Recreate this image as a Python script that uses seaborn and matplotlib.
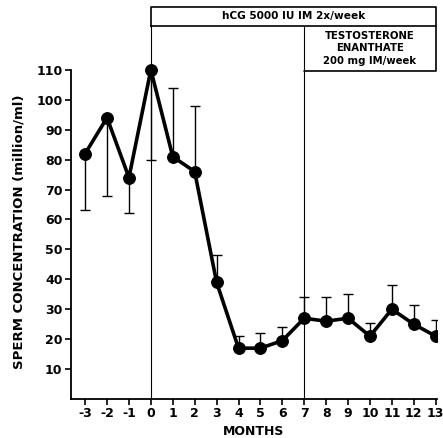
import numpy as np
import pandas as pd
import seaborn as sns
import matplotlib.pyplot as plt

# values
months = [-3, -2, -1, 0, 1, 2, 3, 4, 5, 6, 7, 8, 9, 10, 11, 12, 13]
sperm_mean = [82, 94, 74, 110, 81, 76, 39, 17, 17, 19.5, 27, 26, 27, 21, 30, 25, 21]
err_low = [19, 26, 12, 30, 0, 0, 0, 0, 0, 0, 0, 0, 0, 0, 0, 0, 0]
err_high = [0, 0, 0, 0, 23, 22, 9, 4, 5, 4.5, 7, 8, 8, 4.5, 8, 6.5, 5.5]
y_ticks = [10, 20, 30, 40, 50, 60, 70, 80, 90, 100, 110]

hcg_start, te_start, study_end = 0, 7, 13
hcg_label = 'hCG 5000 IU IM 2x/week'
te_label = 'TESTOSTERONE\nENANTHATE\n200 mg IM/week'

df = pd.DataFrame({'Month': months, 'Sperm': sperm_mean})

sns.set_style('ticks')
plt.rcParams['font.family'] = ['DejaVu Sans']
plt.rcParams['font.weight'] = 'bold'
plt.rcParams['text.color'] = 'black'
plt.rcParams['xtick.color'] = 'black'
plt.rcParams['ytick.color'] = 'black'
plt.rcParams['axes.labelcolor'] = 'black'
plt.rcParams['axes.edgecolor'] = 'black'

fig = plt.figure(figsize=(4.43, 4.38), dpi=100)
ax = fig.add_axes([0.160, 0.089, 0.826, 0.895])

ax.errorbar(months, sperm_mean, yerr=[err_low, err_high], fmt='none',
            ecolor='black', elinewidth=1, capsize=3.5, capthick=1, zorder=2)
sns.lineplot(data=df, x='Month', y='Sperm', color='black', linewidth=2.6,
             marker='o', markersize=8.5, markeredgecolor='black', ax=ax, zorder=3)

ax.set_xlim(-3.65, 13.05)
ax.set_ylim(0, 131)

# treatment lines and boxes
box_top, box_mid, te_bottom = 131, 124.8, 109.7
ax.plot([hcg_start, hcg_start], [0, box_mid], color='black', lw=0.8, zorder=1)
ax.plot([te_start, te_start], [0, box_mid], color='black', lw=0.8, zorder=1)
ax.plot([hcg_start, study_end, study_end, hcg_start, hcg_start],
        [box_mid, box_mid, box_top, box_top, box_mid], color='black', lw=1.2, clip_on=False)
ax.plot([te_start, study_end, study_end], [te_bottom, te_bottom, box_mid],
        color='black', lw=1.2, clip_on=False)
ax.text((hcg_start + study_end) / 2, (box_mid + box_top) / 2, hcg_label,
        ha='center', va='center', fontsize=7.6, fontweight='bold')
ax.text((te_start + study_end) / 2, (te_bottom + box_mid) / 2, te_label,
        ha='center', va='center', fontsize=7.3, fontweight='bold', linespacing=1.3)

ax.spines['top'].set_visible(False)
ax.spines['right'].set_visible(False)
ax.spines['left'].set_bounds(0, 110)
ax.spines['left'].set_linewidth(1.3)
ax.spines['bottom'].set_linewidth(1.3)

ax.set_xticks(months)
ax.set_xticklabels([str(m) for m in months], fontsize=9, fontweight='bold')
ax.set_yticks(y_ticks)
ax.set_yticklabels([str(v) for v in y_ticks], fontsize=9, fontweight='bold')
ax.tick_params(axis='both', length=4, width=1.2, pad=2)

ax.set_xlabel('MONTHS', fontsize=9, fontweight='bold', labelpad=3)
ax.set_ylabel('SPERM CONCENTRATION (million/ml)', fontsize=9.5, fontweight='bold')
ax.yaxis.set_label_coords(-0.125, 0.426)

plt.savefig('out.png', dpi=100)
